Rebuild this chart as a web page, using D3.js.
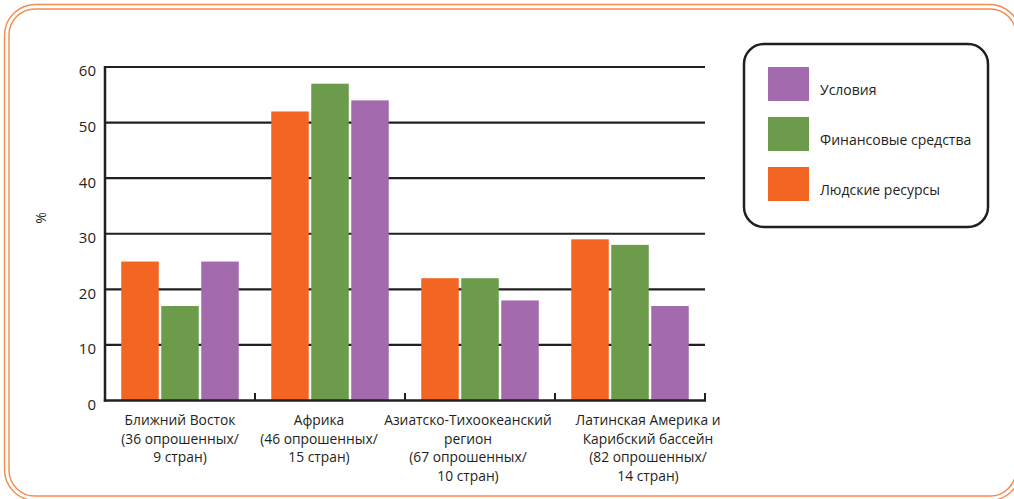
<!DOCTYPE html>
<html>
<head>
<meta charset="utf-8">
<script src="https://cdn.jsdelivr.net/npm/d3@7"></script>
<style>
  html, body { margin: 0; padding: 0; background: #fff; }
  svg { display: block; }
  text { font-family: "Open Sans", "Noto Sans", sans-serif; fill: #231f20; }
</style>
</head>
<body>
<svg id="chart" width="1014" height="499"></svg>
<script>
// Regions surveyed, one label line per array entry
const categories = [
  ["Ближний Восток", "(36 опрошенных/", "9 стран)"],
  ["Африка", "(46 опрошенных/", "15 стран)"],
  ["Азиатско-Тихоокеанский", "регион", "(67 опрошенных/", "10 стран)"],
  ["Латинская Америка и", "Карибский бассейн", "(82 опрошенных/", "14 стран)"]
];
const seriesNames = ["Людские ресурсы", "Финансовые средства", "Условия"];
const seriesColors = ["#f26522", "#6b9b4b", "#a36bad"];
const humanResources = [25, 52, 22, 29];
const funding = [17, 57, 22, 28];
const conditions = [25, 54, 18, 17];
const yTicks = [0, 10, 20, 30, 40, 50, 60];
const yLabel = "%";
const legendOrder = ["Условия", "Финансовые средства", "Людские ресурсы"];

const seriesValues = [humanResources, funding, conditions];
const svg = d3.select("#chart");
const ink = "#231f20";

// Decorative double rounded frame
const frameColor = "#f58a4e";
svg.append("rect").attr("x", 4.5).attr("y", 4.5).attr("width", 1016).attr("height", 496)
  .attr("rx", 31).attr("fill", "none").attr("stroke", frameColor).attr("stroke-width", 1.4);
svg.append("rect").attr("x", 9).attr("y", 9).attr("width", 1007).attr("height", 487)
  .attr("rx", 26).attr("fill", "none").attr("stroke", frameColor).attr("stroke-width", 1.4);

const plot = { left: 105, right: 705, top: 67, bottom: 400.5 };

const x0 = d3.scaleBand()
  .domain(d3.range(categories.length))
  .range([plot.left, plot.right])
  .padding(0);
const x1 = d3.scaleBand()
  .domain(d3.range(seriesNames.length))
  .range([16.25, x0.bandwidth() - 16.25])
  .paddingInner(0.0625)
  .paddingOuter(0);
const y = d3.scaleLinear().domain([0, 60]).range([plot.bottom, plot.top]);

// Horizontal grid lines
svg.append("g").selectAll("line")
  .data(yTicks.filter(d => d > 0))
  .join("line")
  .attr("x1", plot.left).attr("x2", plot.right)
  .attr("y1", d => y(d)).attr("y2", d => y(d))
  .attr("stroke", ink).attr("stroke-width", 2.2);

// Bars
const groups = svg.append("g").selectAll("g")
  .data(categories.map((c, i) => i))
  .join("g")
  .attr("transform", i => `translate(${x0(i)},0)`);
groups.selectAll("rect")
  .data(i => seriesValues.map((vals, s) => ({ s, v: vals[i] })))
  .join("rect")
  .attr("x", d => x1(d.s))
  .attr("width", x1.bandwidth())
  .attr("y", d => y(d.v))
  .attr("height", d => y(0) - y(d.v))
  .attr("fill", d => seriesColors[d.s]);

// Y axis line and baseline
svg.append("line").attr("x1", plot.left).attr("x2", plot.left)
  .attr("y1", plot.top - 1).attr("y2", plot.bottom + 1.2)
  .attr("stroke", ink).attr("stroke-width", 2.5);
svg.append("line").attr("x1", plot.left - 1.2).attr("x2", plot.right + 1)
  .attr("y1", plot.bottom).attr("y2", plot.bottom)
  .attr("stroke", ink).attr("stroke-width", 2.5);

// Group separator ticks on the baseline
svg.append("g").selectAll("line")
  .data(d3.range(1, categories.length + 1))
  .join("line")
  .attr("x1", i => x0(i - 1) + x0.bandwidth()).attr("x2", i => x0(i - 1) + x0.bandwidth())
  .attr("y1", plot.bottom).attr("y2", plot.bottom - 7.5)
  .attr("stroke", ink).attr("stroke-width", 2);

// Y tick labels
svg.append("g").selectAll("text")
  .data(yTicks)
  .join("text")
  .attr("x", 96).attr("y", d => y(d) + 4)
  .attr("dy", "0.36em")
  .attr("text-anchor", "end")
  .attr("font-size", 15)
  .text(d => d);

// Y axis title
svg.append("text")
  .attr("transform", "translate(46,218) rotate(-90)")
  .attr("text-anchor", "middle")
  .attr("font-size", 14)
  .text(yLabel);

// Category labels; long labels are nudged so neighbours do not collide
const labelShift = [0, -11, -12, 18];
const catText = svg.append("g").selectAll("text")
  .data(categories.map((c, i) => ({ c, i })))
  .join("text")
  .attr("text-anchor", "middle")
  .attr("font-size", 13.8)
  .attr("y", 425);
catText.selectAll("tspan")
  .data(d => d.c.map((line, k) => ({ line, k, x: x0(d.i) + x0.bandwidth() / 2 + labelShift[d.i] })))
  .join("tspan")
  .attr("x", d => d.x)
  .attr("dy", d => d.k === 0 ? 0 : 18.6)
  .text(d => d.line);

// Legend
const legend = svg.append("g");
legend.append("rect")
  .attr("x", 744).attr("y", 44).attr("width", 244).attr("height", 183)
  .attr("rx", 20).attr("fill", "#fff").attr("stroke", ink).attr("stroke-width", 2.5);
const legendItems = legend.selectAll("g")
  .data(legendOrder)
  .join("g")
  .attr("transform", (d, k) => `translate(768,${67 + k * 50})`);
legendItems.append("rect")
  .attr("width", 41).attr("height", 34)
  .attr("fill", d => seriesColors[seriesNames.indexOf(d)]);
legendItems.append("text")
  .attr("x", 52).attr("y", 28)
  .attr("font-size", 14)
  .text(d => d);
</script>
</body>
</html>
